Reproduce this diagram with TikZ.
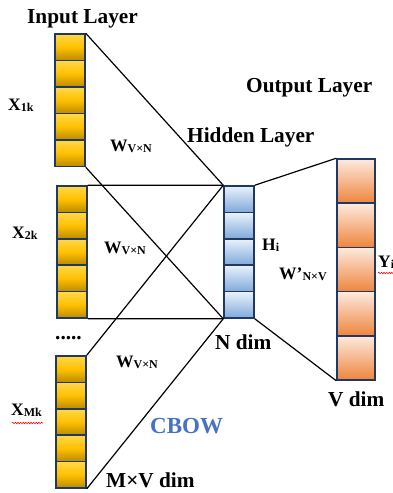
\documentclass[tikz,border=0pt]{standalone}
\usepackage{fontspec}
\setmainfont{Liberation Serif}
\usetikzlibrary{decorations.pathmorphing}
\definecolor{cellborder}{HTML}{203864}
\definecolor{goldtop}{HTML}{FFD84A}
\definecolor{goldmid}{HTML}{FFC000}
\definecolor{goldbot}{HTML}{B98A00}
\definecolor{bluetop}{HTML}{EAF2FB}
\definecolor{bluebot}{HTML}{7FA9DA}
\definecolor{orgtop}{HTML}{FDEADF}
\definecolor{orgbot}{HTML}{EE853C}
\definecolor{cbowblue}{HTML}{4472C4}
\newcommand{\bigbold}{\fontsize{21.3}{25}\selectfont\bfseries}
\newcommand{\midbold}{\fontsize{17.5}{20}\selectfont\bfseries}
\newcommand{\subbold}{\fontsize{12}{14}\selectfont\bfseries}
\begin{document}
\begin{tikzpicture}[x=1pt,y=-1pt,
  cell/.style={draw=cellborder,line width=1.5pt,inner sep=0pt,minimum width=30pt},
  gold/.style={cell,minimum height=26.5pt,top color=goldtop,bottom color=goldbot,middle color=goldmid},
  bluecell/.style={cell,minimum height=26.4pt,top color=bluetop,bottom color=bluebot},
  orgcell/.style={cell,minimum width=38pt,minimum height=44.2pt,top color=orgtop,bottom color=orgbot},
  link/.style={black,line width=1.2pt},
  lbl/.style={anchor=base west,inner sep=0pt},
  spell/.style={red,line width=0.6pt,decorate,decoration={snake,amplitude=0.7pt,segment length=2.6pt}}]
\useasboundingbox (0,0) rectangle (393,493);

% input context blocks, hidden layer and output layer
\foreach \i in {1,...,5}{
  \node[gold] (a\i) at (70,{34+13.25+(\i-1)*26.5}) {};
  \node[gold] (b\i) at (72,{186+13.2+(\i-1)*26.4}) {};
  \node[gold] (c\i) at (71,{356+13.2+(\i-1)*26.4}) {};
  \node[bluecell] (h\i) at (239,{186+13.2+(\i-1)*26.4}) {};
  \node[orgcell] (o\i) at (356,{159+22.1+(\i-1)*44.2}) {};
}

% weight connections
\draw[link] (a1.north east) -- (h1.north west);
\draw[link] (a5.south east) -- (h5.south west);
\draw[link] (b1.north east) -- (h1.north west);
\draw[link] (b5.south east) -- (h5.south west);
\draw[link] (c1.north east) -- (h1.north west);
\draw[link] (c5.south east) -- (h5.south west);
\draw[link] (h1.north east) -- (o1.north west);
\draw[link] (h5.south east) -- (o5.south west);

% layer titles
\node[lbl] (tin) at (27,23) {\bigbold Input Layer};
\node[lbl] (tout) at (246,92) {\bigbold Output Layer};
\node[lbl] (thid) at (187,142) {\bigbold Hidden Layer};
\node[lbl] (tn) at (215,349) {\bigbold N dim};
\node[lbl] (tv) at (328,406) {\bigbold V dim};
\node[lbl] (tmv) at (106,487) {\bigbold M×V dim};
\node[lbl,text=cbowblue] (tcbow) at (150,433) {\fontsize{23}{26}\selectfont\bfseries CBOW};
\node[lbl] (dots) at (55,339) {\bigbold .....};

% input word labels
\node[lbl] (x1) at (8,110) {\midbold X\raisebox{-1.5pt}{\subbold 1k}};
\node[lbl] (x2) at (12,238) {\midbold X\raisebox{-1.5pt}{\subbold 2k}};
\node[lbl] (xm) at (11,415) {\midbold X\raisebox{-1.5pt}{\subbold Mk}};

% weight matrix labels
\node[lbl] (w1) at (110,151) {\midbold W\raisebox{-1.5pt}{\subbold V×N}};
\node[lbl] (w2) at (104,253) {\midbold W\raisebox{-1.5pt}{\subbold V×N}};
\node[lbl] (w3) at (116,367) {\midbold W\raisebox{-1.5pt}{\subbold V×N}};
\node[lbl] (wp) at (279,279) {\midbold W’\raisebox{-1.5pt}{\subbold N×V}};
\node[lbl] (hi) at (262,250) {\midbold H\raisebox{-1.5pt}{\subbold i}};
\node[lbl] (yi) at (378,267) {\midbold Y\raisebox{-1.5pt}{\subbold i}};

% spell-check underlines
\draw[spell] (xm.base west) ++(1,8) -- ++(31,0);
\draw[spell] (yi.base west) ++(0,6) -- ++(16,0);
\end{tikzpicture}
\end{document}
